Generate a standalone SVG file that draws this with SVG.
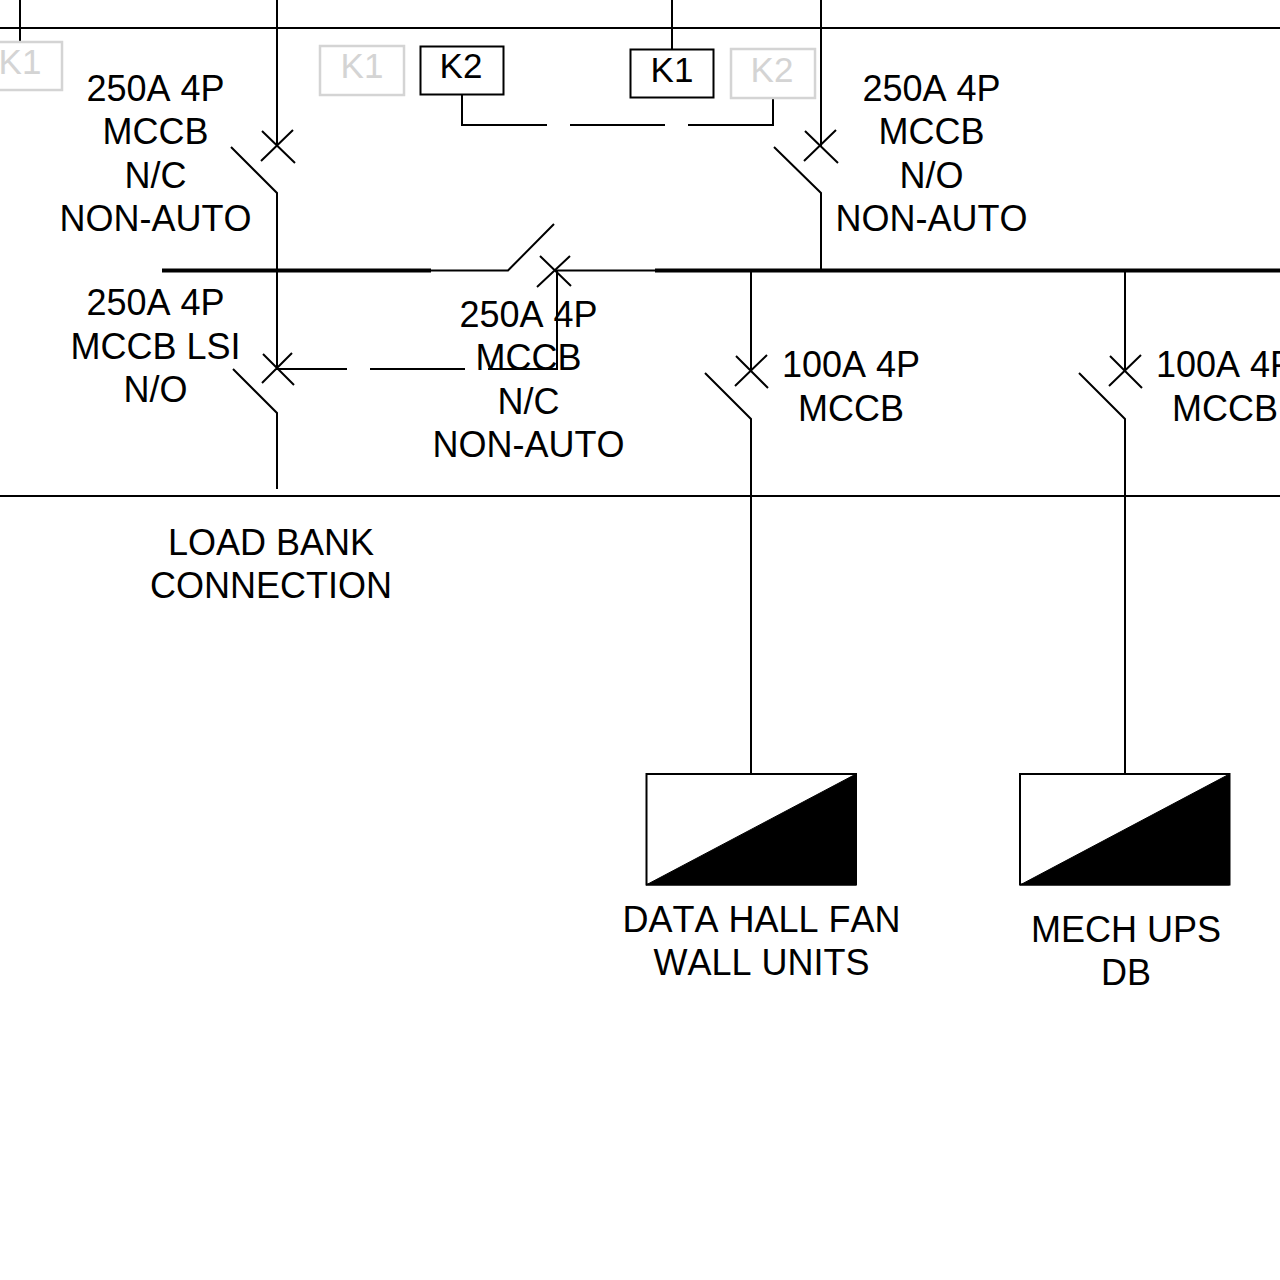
<svg xmlns="http://www.w3.org/2000/svg" width="1280" height="1280" viewBox="0 0 1280 1280">
<style>
text{font-family:"Liberation Sans",Arial,sans-serif;font-size:36px;fill:#000;text-anchor:middle;font-kerning:none}
text.kt{font-size:35px}
.l{fill:none;stroke:#000;stroke-width:2}
.b{fill:none;stroke:#000;stroke-width:4}
.k{fill:#fff;stroke:#000;stroke-width:2}
.g{fill:#fff;stroke:#d4d4d4;stroke-width:2.5}
text.gt{fill:#d4d4d4;font-size:35px}
</style>
<rect width="1280" height="1280" fill="#fff"/>
<g id="connectors">
<path class="l" d="M0 28H1280M0 496H1280"/>
<path class="l" d="M20 0V42M277 0V131"/>
<path class="l" d="M672 0V49M821 0V147"/>
<path class="l" d="M462 94V125H547M570 125H665M688 125H773V97"/>
<path class="b" d="M162 270.500H431M655 270.500H1280"/>
<path class="l" d="M431 270.500H508L554 224M555 270.500H655"/>
<path class="l" d="M277 147V0M231 147L277 193V370M231 147"/>
<path class="l" d="M774 147L821 193V270"/>
<path class="l" d="M262 131L295 163M261 161L293 130"/>
<path class="l" d="M805 131L838 163M804 161L836 130"/>
<path class="l" d="M277 369H347M370 369H465M488 369H557V271"/>
<path class="l" d="M540 256L571 286M537 287L570 256"/>
<path class="l" d="M233 369L277 413V489"/>
<path class="l" d="M263 354L294 385M262 383L292 353"/>
<path class="l" d="M751 270V372M705 373L751 419V774"/>
<path class="l" d="M736 356L768 388M735 386L767 355"/>
<path class="l" d="M1125 270V372M1079 373L1125 419V774"/>
<path class="l" d="M1110 356L1142 388M1109 386L1141 355"/>
</g>
<g id="k1-left"><rect class="g" x="-22" y="42" width="84" height="48"/><text class="gt" x="20" y="74">K1</text></g>
<g id="k1-a"><rect class="g" x="320" y="46" width="84" height="49"/><text class="gt" x="362" y="78">K1</text></g>
<g id="k2-a"><rect class="k" x="420.500" y="46.500" width="83" height="48"/><text class="kt" x="461" y="78">K2</text></g>
<g id="k1-b"><rect class="k" x="630.500" y="49.500" width="83" height="48"/><text class="kt" x="672" y="81.500">K1</text></g>
<g id="k2-b"><rect class="g" x="731" y="49" width="84" height="49"/><text class="gt" x="772" y="81.500">K2</text></g>
<g id="label-mccb-1"><text x="155.500" y="101">250A 4P</text><text x="155.500" y="144">MCCB</text><text x="155.500" y="188">N/C</text><text x="155.500" y="231">NON-AUTO</text></g>
<g id="label-mccb-2"><text x="931.500" y="101">250A 4P</text><text x="931.500" y="144">MCCB</text><text x="931.500" y="188">N/O</text><text x="931.500" y="231">NON-AUTO</text></g>
<g id="label-mccb-3"><text x="155.500" y="315">250A 4P</text><text x="155.500" y="359">MCCB LSI</text><text x="155.500" y="402">N/O</text></g>
<g id="label-mccb-4"><text x="528.500" y="327">250A 4P</text><text x="528.500" y="370">MCCB</text><text x="528.500" y="414">N/C</text><text x="528.500" y="457">NON-AUTO</text></g>
<g id="label-mccb-5"><text x="851" y="377">100A 4P</text><text x="851" y="421">MCCB</text></g>
<g id="label-mccb-6"><text x="1225" y="377">100A 4P</text><text x="1225" y="421">MCCB</text></g>
<g id="load-bank"><text x="271" y="555">LOAD BANK</text><text x="271" y="598">CONNECTION</text></g>
<g id="fan-wall">
<rect class="k" x="646.500" y="774" width="209.500" height="110.500"/><path d="M646 885L856 774V885Z" fill="#000" stroke="#000" stroke-width="1"/>
<text x="761.500" y="932">DATA HALL FAN</text><text x="761.500" y="975">WALL UNITS</text></g>
<g id="mech-ups">
<rect class="k" x="1020" y="774" width="209.500" height="110.500"/><path d="M1020 885L1229.500 774V885Z" fill="#000" stroke="#000" stroke-width="1"/>
<text x="1126" y="942">MECH UPS</text><text x="1126" y="985">DB</text></g>
</svg>
